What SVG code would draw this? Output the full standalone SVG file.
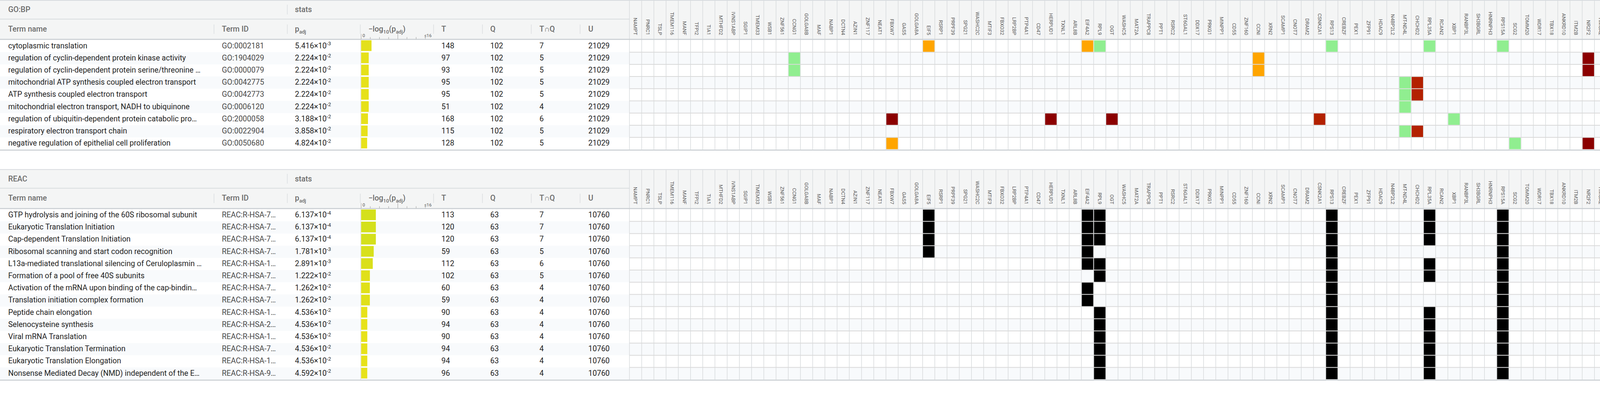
<svg xmlns="http://www.w3.org/2000/svg" width="5144" height="1025" viewBox="0 0 5144 1025">
<style>
text{font-family:Roboto,"Liberation Sans",sans-serif}
.d{font-size:19.5px;fill:#1f1f1f}
.i{fill:#4a4a4a}
.h{font-size:19.5px;fill:#6b6b6b;font-weight:500}
.s{font-size:13px}
.ax{font-size:11.5px;fill:#555}
.gn{font-family:"DejaVu Sans",sans-serif;font-size:12.8px;fill:#5c5c5c;text-anchor:end}
.pg{font-size:19.5px;fill:#6b6b6b}
.hb{fill:#f4f5f5}
.ln{fill:#c9ced2}
.tint{fill:#f8fafc}
.vl{stroke:#d8dbdd;stroke-width:1.5;fill:none}
.hl{stroke:#d9d9d9;stroke-width:2;fill:none}
.sep{stroke:#dadde0;stroke-width:1.5}
.tk{stroke:#9a9a9a;stroke-width:1}
.ic{fill:none;stroke:#c4c4c4;stroke-width:1.6}
.or{fill:#ffa500}.gr{fill:#90ee90}.dr{fill:#8b0000}.rd{fill:#b32100}.bl{fill:#6495ed}.bk{fill:#000}
</style>
<defs>
<path id="vgTop" d="M1611.4 2v381.3m31.27-381.3v381.3m31.27-381.3v381.3m31.27-381.3v381.3m31.27-381.3v381.3m31.27-381.3v381.3m31.27-381.3v381.3m31.27-381.3v381.3m31.27-381.3v381.3m31.27-381.3v381.3m31.27-381.3v381.3m31.27-381.3v381.3m31.27-381.3v381.3m31.27-381.3v381.3m31.27-381.3v381.3m31.27-381.3v381.3m31.27-381.3v381.3m31.27-381.3v381.3m31.27-381.3v381.3m31.27-381.3v381.3m31.27-381.3v381.3m31.27-381.3v381.3m31.27-381.3v381.3m31.27-381.3v381.3m31.27-381.3v381.3m31.27-381.3v381.3m31.27-381.3v381.3m31.27-381.3v381.3m31.27-381.3v381.3m31.27-381.3v381.3m31.27-381.3v381.3m31.27-381.3v381.3m31.27-381.3v381.3m31.27-381.3v381.3m31.27-381.3v381.3m31.27-381.3v381.3m31.27-381.3v381.3m31.27-381.3v381.3m31.27-381.3v381.3m31.27-381.3v381.3m31.27-381.3v381.3m31.27-381.3v381.3m31.27-381.3v381.3m31.27-381.3v381.3m31.27-381.3v381.3m31.27-381.3v381.3m31.27-381.3v381.3m31.27-381.3v381.3m31.27-381.3v381.3m31.27-381.3v381.3m31.27-381.3v381.3m31.27-381.3v381.3m31.27-381.3v381.3m31.27-381.3v381.3m31.27-381.3v381.3m31.27-381.3v381.3m31.27-381.3v381.3m31.27-381.3v381.3m31.27-381.3v381.3m31.27-381.3v381.3m31.27-381.3v381.3m31.27-381.3v381.3m31.27-381.3v381.3m31.27-381.3v381.3m31.27-381.3v381.3m31.27-381.3v381.3m31.27-381.3v381.3m31.27-381.3v381.3m31.27-381.3v381.3m31.27-381.3v381.3m31.27-381.3v381.3m31.27-381.3v381.3m31.27-381.3v381.3m31.27-381.3v381.3m31.27-381.3v381.3m31.27-381.3v381.3m31.27-381.3v381.3m31.27-381.3v381.3m31.27-381.3v381.3m31.27-381.3v381.3m31.27-381.3v381.3m31.27-381.3v381.3m31.27-381.3v381.3m31.27-381.3v381.3m31.27-381.3v381.3m31.27-381.3v381.3m31.27-381.3v381.3m31.27-381.3v381.3m31.27-381.3v381.3m31.27-381.3v381.3m31.27-381.3v381.3m31.27-381.3v381.3m31.27-381.3v381.3m31.27-381.3v381.3m31.27-381.3v381.3m31.27-381.3v381.3m31.27-381.3v381.3m31.27-381.3v381.3m31.27-381.3v381.3m31.27-381.3v381.3m31.27-381.3v381.3m31.27-381.3v381.3m31.27-381.3v381.3m31.27-381.3v381.3m31.27-381.3v381.3m31.27-381.3v381.3m31.27-381.3v381.3m31.27-381.3v381.3m31.27-381.3v381.3m31.27-381.3v381.3m31.27-381.3v381.3m31.27-381.3v381.3m31.27-381.3v381.3m31.27-381.3v381.3m31.27-381.3v381.3m31.27-381.3v381.3m31.27-381.3v381.3m31.27-381.3v381.3"/>
<path id="vgBot" d="M1611.4 2v537.3m31.27-537.3v537.3m31.27-537.3v537.3m31.27-537.3v537.3m31.27-537.3v537.3m31.27-537.3v537.3m31.27-537.3v537.3m31.27-537.3v537.3m31.27-537.3v537.3m31.27-537.3v537.3m31.27-537.3v537.3m31.27-537.3v537.3m31.27-537.3v537.3m31.27-537.3v537.3m31.27-537.3v537.3m31.27-537.3v537.3m31.27-537.3v537.3m31.27-537.3v537.3m31.27-537.3v537.3m31.27-537.3v537.3m31.27-537.3v537.3m31.27-537.3v537.3m31.27-537.3v537.3m31.27-537.3v537.3m31.27-537.3v537.3m31.27-537.3v537.3m31.27-537.3v537.3m31.27-537.3v537.3m31.27-537.3v537.3m31.27-537.3v537.3m31.27-537.3v537.3m31.27-537.3v537.3m31.27-537.3v537.3m31.27-537.3v537.3m31.27-537.3v537.3m31.27-537.3v537.3m31.27-537.3v537.3m31.27-537.3v537.3m31.27-537.3v537.3m31.27-537.3v537.3m31.27-537.3v537.3m31.27-537.3v537.3m31.27-537.3v537.3m31.27-537.3v537.3m31.27-537.3v537.3m31.27-537.3v537.3m31.27-537.3v537.3m31.27-537.3v537.3m31.27-537.3v537.3m31.27-537.3v537.3m31.27-537.3v537.3m31.27-537.3v537.3m31.27-537.3v537.3m31.27-537.3v537.3m31.27-537.3v537.3m31.27-537.3v537.3m31.27-537.3v537.3m31.27-537.3v537.3m31.27-537.3v537.3m31.27-537.3v537.3m31.27-537.3v537.3m31.27-537.3v537.3m31.27-537.3v537.3m31.27-537.3v537.3m31.27-537.3v537.3m31.27-537.3v537.3m31.27-537.3v537.3m31.27-537.3v537.3m31.27-537.3v537.3m31.27-537.3v537.3m31.27-537.3v537.3m31.27-537.3v537.3m31.27-537.3v537.3m31.27-537.3v537.3m31.27-537.3v537.3m31.27-537.3v537.3m31.27-537.3v537.3m31.27-537.3v537.3m31.27-537.3v537.3m31.27-537.3v537.3m31.27-537.3v537.3m31.27-537.3v537.3m31.27-537.3v537.3m31.27-537.3v537.3m31.27-537.3v537.3m31.27-537.3v537.3m31.27-537.3v537.3m31.27-537.3v537.3m31.27-537.3v537.3m31.27-537.3v537.3m31.27-537.3v537.3m31.27-537.3v537.3m31.27-537.3v537.3m31.27-537.3v537.3m31.27-537.3v537.3m31.27-537.3v537.3m31.27-537.3v537.3m31.27-537.3v537.3m31.27-537.3v537.3m31.27-537.3v537.3m31.27-537.3v537.3m31.27-537.3v537.3m31.27-537.3v537.3m31.27-537.3v537.3m31.27-537.3v537.3m31.27-537.3v537.3m31.27-537.3v537.3m31.27-537.3v537.3m31.27-537.3v537.3m31.27-537.3v537.3m31.27-537.3v537.3m31.27-537.3v537.3m31.27-537.3v537.3m31.27-537.3v537.3m31.27-537.3v537.3m31.27-537.3v537.3m31.27-537.3v537.3m31.27-537.3v537.3m31.27-537.3v537.3m31.27-537.3v537.3m31.27-537.3v537.3m31.27-537.3v537.3m31.27-537.3v537.3"/>
</defs>
<rect width="5144" height="1025" fill="#fff"/>

<!-- ============ GO:BP section ============ -->
<g id="gobp">
 <rect class="hb" x="0" y="1.5" width="5144" height="98.5"/>
 <rect class="tint" x="0" y="133.7" width="5144" height="31.2"/>
 <rect class="tint" x="0" y="196.1" width="5144" height="31.2"/>
 <rect class="tint" x="0" y="258.5" width="5144" height="31.2"/>
 <rect class="tint" x="0" y="320.9" width="5144" height="31.2"/>
 <use href="#vgTop" class="vl"/>
 <path class="hl" d="M1611.4 133.7H5144M1611.4 164.9H5144M1611.4 196.1H5144M1611.4 227.3H5144M1611.4 258.5H5144M1611.4 289.7H5144M1611.4 320.9H5144M1611.4 352.1H5144"/>
 <line x1="923.5" y1="102" x2="923.5" y2="383.3" stroke="#d6d6d6" stroke-width="1"/>
 <rect x="0" y="0" width="5144" height="1.8" fill="#d3d7db"/>
 <line x1="0" y1="48.8" x2="1611.4" y2="48.8" stroke="#d5d9dc" stroke-width="1.8"/>
 <rect class="ln" x="0" y="99.6" width="5144" height="2.6"/>
 <rect class="ln" x="0" y="383.3" width="5144" height="2.6"/>
 <g id="gobp-head">
  <text class="h" x="21" y="31">GO:BP</text>
  <text class="h" x="755" y="31">stats</text>
  <line class="sep" x1="735.5" y1="12" x2="735.5" y2="37"/>
  <text class="h" x="21" y="80.7">Term name</text>
  <text class="h" x="568" y="80.7">Term ID</text>
  <text class="h" x="755" y="80.7">p<tspan class="s" dy="5">adj</tspan></text>
  <text class="h" x="943" y="80.7">−log<tspan class="s" dy="5">10</tspan><tspan dy="-5">(p</tspan><tspan class="s" dy="5">adj</tspan><tspan dy="-5">)</tspan></text>
  <text class="h" x="1130" y="80.7">T</text>
  <text class="h" x="1255" y="80.7">Q</text>
  <text class="h" x="1381" y="80.7">T∩Q</text>
  <text class="h" x="1506" y="80.7">U</text>
  <path class="sep" d="M547.8 62.7V86.7M735.5 62.7V86.7M922.4 62.7V86.7M1110 62.7V86.7M1235 62.7V86.7M1360 62.7V86.7M1485 62.7V86.7"/>
  <path class="tk" d="M924.5 87V100M948 95V100M971.4 95V100M994.9 95V100M1018.4 87V100M1041.8 95V100M1065.3 95V100M1088.8 95V100"/>
  <text class="ax" x="928" y="95">0</text>
  <text class="ax" x="1105" y="95" text-anchor="end">≤16</text>
 </g>
 <g id="gobp-genes" class="gn" transform="rotate(90)">
  <text x="90" y="-1622.4">NAMPT</text><text x="90" y="-1653.7">PNRC1</text><text x="90" y="-1684.9">TSLP</text><text x="90" y="-1716.2">TMEM116</text><text x="90" y="-1747.5">MANF</text><text x="90" y="-1778.8">TFPI2</text><text x="90" y="-1810">TIA1</text><text x="90" y="-1841.3">MTHFD2</text><text x="90" y="-1872.6">IVNS1ABP</text><text x="90" y="-1903.8">SGIP1</text>
  <text x="90" y="-1935.1">TMEM33</text><text x="90" y="-1966.4">WSB1</text><text x="90" y="-1997.6">ZNF561</text><text x="90" y="-2028.9">CCNG1</text><text x="90" y="-2060.2">GOLGA8B</text><text x="90" y="-2091.5">MAF</text><text x="90" y="-2122.7">NABP1</text><text x="90" y="-2154">DCTN4</text><text x="90" y="-2185.3">AZIN1</text><text x="90" y="-2216.5">ZNF117</text>
  <text x="90" y="-2247.8">NEAT1</text><text x="90" y="-2279.1">FBXW7</text><text x="90" y="-2310.3">GAS5</text><text x="90" y="-2341.6">GOLGA8A</text><text x="90" y="-2372.9">EIF5</text><text x="90" y="-2404.2">RSRP1</text><text x="90" y="-2435.4">PRPF39</text><text x="90" y="-2466.7">SPG21</text><text x="90" y="-2498">WASHC2C</text><text x="90" y="-2529.2">MTIF3</text>
  <text x="90" y="-2560.5">FBXO32</text><text x="90" y="-2591.8">LRP2BP</text><text x="90" y="-2623">PTP4A1</text><text x="90" y="-2654.3">CD47</text><text x="90" y="-2685.6">HERPUD1</text><text x="90" y="-2716.9">TXNL1</text><text x="90" y="-2748.1">ARL8B</text><text x="90" y="-2779.4">EIF4A2</text><text x="90" y="-2810.7">RPL9</text><text x="90" y="-2841.9">OGT</text>
  <text x="90" y="-2873.2">WASHC5</text><text x="90" y="-2904.5">MAT2A</text><text x="90" y="-2935.7">TRAPPC8</text><text x="90" y="-2967">PPT1</text><text x="90" y="-2998.3">RSRC2</text><text x="90" y="-3029.6">ST6GAL1</text><text x="90" y="-3060.8">DDX17</text><text x="90" y="-3092.1">PRKG1</text><text x="90" y="-3123.4">MINPP1</text><text x="90" y="-3154.6">CD55</text>
  <text x="90" y="-3185.9">ZNF160</text><text x="90" y="-3217.2">CCNI</text><text x="90" y="-3248.4">XRN2</text><text x="90" y="-3279.7">SCAMP1</text><text x="90" y="-3311">CNOT7</text><text x="90" y="-3342.3">DRAM2</text><text x="90" y="-3373.5">CSNK2A1</text><text x="90" y="-3404.8">RPS13</text><text x="90" y="-3436.1">CREBZF</text><text x="90" y="-3467.3">PEX1</text>
  <text x="90" y="-3498.6">ZFP91</text><text x="90" y="-3529.9">HDAC9</text><text x="90" y="-3561.1">N4BP2L2</text><text x="90" y="-3592.4">MT-ND4L</text><text x="90" y="-3623.7">CHCHD2</text><text x="90" y="-3655">RPL35A</text><text x="90" y="-3686.2">RCAN2</text><text x="90" y="-3717.5">XBP1</text><text x="90" y="-3748.8">RANBP3L</text><text x="90" y="-3780">SH3BGRL</text>
  <text x="90" y="-3811.3">HNRNPH3</text><text x="90" y="-3842.6">RPS15A</text><text x="90" y="-3873.8">SCG2</text><text x="90" y="-3905.1">TOMM20</text><text x="90" y="-3936.4">WDR17</text><text x="90" y="-3967.7">TBX18</text><text x="90" y="-3998.9">ANKRD10</text><text x="90" y="-4030.2">ITM2B</text><text x="90" y="-4061.5">NR2F2</text><text x="90" y="-4092.7">HMGA2</text>
  <text x="90" y="-4124">EREG</text><text x="90" y="-4155.3">SREK1</text><text x="90" y="-4186.5">SNX14</text><text x="90" y="-4217.8">PCBP2</text><text x="90" y="-4249.1">TRPM7</text><text x="90" y="-4280.4">NEK10</text><text x="90" y="-4311.6">SERPINI1</text><text x="90" y="-4342.9">MAN1A1</text><text x="90" y="-4374.2">CFAP44</text><text x="90" y="-4405.4">AMZ2</text>
  <text x="90" y="-4436.7">FTX</text><text x="90" y="-4468">ISCU</text><text x="90" y="-4499.2">GID4</text><text x="90" y="-4530.5">ZMAT1</text><text x="90" y="-4561.8">PSMG2</text><text x="90" y="-4593.1">ECM2</text><text x="90" y="-4624.3">UBE2B</text><text x="90" y="-4655.6">CCNG2</text><text x="90" y="-4686.9">KRCC1</text><text x="90" y="-4718.1">TMEM50B</text>
  <text x="90" y="-4749.4">SRSF6</text><text x="90" y="-4780.7">DPY30</text><text x="90" y="-4811.9">SLC44A1</text><text x="90" y="-4843.2">EIF3J</text><text x="90" y="-4874.5">PPP4R3B</text><text x="90" y="-4905.8">PFKFB3</text><text x="90" y="-4937">NDUFA1</text><text x="90" y="-4968.3">DTD2</text><text x="90" y="-4999.6">RTCA</text><text x="90" y="-5030.8">MT-ND4</text>
  <text x="90" y="-5062.1">SAT1</text><text x="90" y="-5093.4">GSTA4</text><text x="90" y="-5124.6">PTEN</text>
 </g>
 <g id="gobp-cells">
  <rect class="or" x="2362.9" y="103.5" width="29.3" height="29.2"/><rect class="or" x="2769.4" y="103.5" width="29.3" height="29.2"/><rect class="gr" x="2800.7" y="103.5" width="29.3" height="29.2"/><rect class="gr" x="3394.8" y="103.5" width="29.3" height="29.2"/><rect class="gr" x="3645" y="103.5" width="29.3" height="29.2"/><rect class="gr" x="3832.6" y="103.5" width="29.3" height="29.2"/><rect class="bl" x="4833.2" y="103.5" width="29.3" height="29.2"/>
  <rect class="gr" x="2018.9" y="134.7" width="29.3" height="29.2"/><rect class="or" x="3207.2" y="134.7" width="29.3" height="29.2"/><rect class="dr" x="4051.5" y="134.7" width="29.3" height="29.2"/><rect class="or" x="4645.6" y="134.7" width="29.3" height="29.2"/><rect class="dr" x="5114.6" y="134.7" width="29.3" height="29.2"/>
  <rect class="gr" x="2018.9" y="165.9" width="29.3" height="29.2"/><rect class="or" x="3207.2" y="165.9" width="29.3" height="29.2"/><rect class="dr" x="4051.5" y="165.9" width="29.3" height="29.2"/><rect class="or" x="4645.6" y="165.9" width="29.3" height="29.2"/><rect class="dr" x="5114.6" y="165.9" width="29.3" height="29.2"/>
  <rect class="gr" x="3582.4" y="197.1" width="29.3" height="29.2"/><rect class="rd" x="3613.7" y="197.1" width="29.3" height="29.2"/><rect class="dr" x="4458" y="197.1" width="29.3" height="29.2"/><rect class="gr" x="4927" y="197.1" width="29.3" height="29.2"/><rect class="dr" x="5020.8" y="197.1" width="29.3" height="29.2"/>
  <rect class="gr" x="3582.4" y="228.3" width="29.3" height="29.2"/><rect class="rd" x="3613.7" y="228.3" width="29.3" height="29.2"/><rect class="dr" x="4458" y="228.3" width="29.3" height="29.2"/><rect class="gr" x="4927" y="228.3" width="29.3" height="29.2"/><rect class="dr" x="5020.8" y="228.3" width="29.3" height="29.2"/>
  <rect class="gr" x="3582.4" y="259.5" width="29.3" height="29.2"/><rect class="dr" x="4458" y="259.5" width="29.3" height="29.2"/><rect class="gr" x="4927" y="259.5" width="29.3" height="29.2"/><rect class="dr" x="5020.8" y="259.5" width="29.3" height="29.2"/>
  <rect class="dr" x="2269.1" y="290.7" width="29.3" height="29.2"/><rect class="dr" x="2675.6" y="290.7" width="29.3" height="29.2"/><rect class="dr" x="2831.9" y="290.7" width="29.3" height="29.2"/><rect class="rd" x="3363.5" y="290.7" width="29.3" height="29.2"/><rect class="gr" x="3707.5" y="290.7" width="29.3" height="29.2"/><rect class="dr" x="5114.6" y="290.7" width="29.3" height="29.2"/>
  <rect class="gr" x="3582.4" y="321.9" width="29.3" height="29.2"/><rect class="rd" x="3613.7" y="321.9" width="29.3" height="29.2"/><rect class="dr" x="4458" y="321.9" width="29.3" height="29.2"/><rect class="gr" x="4927" y="321.9" width="29.3" height="29.2"/><rect class="dr" x="5020.8" y="321.9" width="29.3" height="29.2"/>
  <rect class="or" x="2269.1" y="353.1" width="29.3" height="29.2"/><rect class="gr" x="3863.8" y="353.1" width="29.3" height="29.2"/><rect class="dr" x="4051.5" y="353.1" width="29.3" height="29.2"/><rect class="gr" x="4114" y="353.1" width="29.3" height="29.2"/><rect class="bl" x="5114.6" y="353.1" width="29.3" height="29.2"/>
 </g>
 <g id="gobp-bars">
  <rect x="924.5" y="103.3" width="26.6" height="27.4" fill="#e3e01b"/>
  <rect x="924.5" y="134.5" width="19.4" height="27.4" fill="#e6e11a"/>
  <rect x="924.5" y="165.7" width="19.4" height="27.4" fill="#e6e11a"/>
  <rect x="924.5" y="196.9" width="19.4" height="27.4" fill="#e6e11a"/>
  <rect x="924.5" y="228.1" width="19.4" height="27.4" fill="#e6e11a"/>
  <rect x="924.5" y="259.3" width="19.4" height="27.4" fill="#e6e11a"/>
  <rect x="924.5" y="290.5" width="17.5" height="27.4" fill="#e7e11a"/>
  <rect x="924.5" y="321.7" width="16.6" height="27.4" fill="#e7e11a"/>
  <rect x="924.5" y="352.9" width="15.4" height="27.4" fill="#e8e21a"/>
 </g>
 <g id="gobp-rows" class="d">
  <text x="21" y="123.5">cytoplasmic translation</text><text class="i" x="568" y="123.5">GO:0002181</text><text x="755" y="123.5">5.416×10<tspan class="s" dy="-7.5">-3</tspan></text><text x="1130" y="123.5">148</text><text x="1255" y="123.5">102</text><text x="1381" y="123.5">7</text><text x="1506" y="123.5">21029</text>
  <text x="21" y="154.7">regulation of cyclin-dependent protein kinase activity</text><text class="i" x="568" y="154.7">GO:1904029</text><text x="755" y="154.7">2.224×10<tspan class="s" dy="-7.5">-2</tspan></text><text x="1130" y="154.7">97</text><text x="1255" y="154.7">102</text><text x="1381" y="154.7">5</text><text x="1506" y="154.7">21029</text>
  <text x="21" y="185.9">regulation of cyclin-dependent protein serine/threonine …</text><text class="i" x="568" y="185.9">GO:0000079</text><text x="755" y="185.9">2.224×10<tspan class="s" dy="-7.5">-2</tspan></text><text x="1130" y="185.9">93</text><text x="1255" y="185.9">102</text><text x="1381" y="185.9">5</text><text x="1506" y="185.9">21029</text>
  <text x="21" y="217.1">mitochondrial ATP synthesis coupled electron transport</text><text class="i" x="568" y="217.1">GO:0042775</text><text x="755" y="217.1">2.224×10<tspan class="s" dy="-7.5">-2</tspan></text><text x="1130" y="217.1">95</text><text x="1255" y="217.1">102</text><text x="1381" y="217.1">5</text><text x="1506" y="217.1">21029</text>
  <text x="21" y="248.3">ATP synthesis coupled electron transport</text><text class="i" x="568" y="248.3">GO:0042773</text><text x="755" y="248.3">2.224×10<tspan class="s" dy="-7.5">-2</tspan></text><text x="1130" y="248.3">95</text><text x="1255" y="248.3">102</text><text x="1381" y="248.3">5</text><text x="1506" y="248.3">21029</text>
  <text x="21" y="279.5">mitochondrial electron transport, NADH to ubiquinone</text><text class="i" x="568" y="279.5">GO:0006120</text><text x="755" y="279.5">2.224×10<tspan class="s" dy="-7.5">-2</tspan></text><text x="1130" y="279.5">51</text><text x="1255" y="279.5">102</text><text x="1381" y="279.5">4</text><text x="1506" y="279.5">21029</text>
  <text x="21" y="310.7">regulation of ubiquitin-dependent protein catabolic pro…</text><text class="i" x="568" y="310.7">GO:2000058</text><text x="755" y="310.7">3.188×10<tspan class="s" dy="-7.5">-2</tspan></text><text x="1130" y="310.7">168</text><text x="1255" y="310.7">102</text><text x="1381" y="310.7">6</text><text x="1506" y="310.7">21029</text>
  <text x="21" y="341.9">respiratory electron transport chain</text><text class="i" x="568" y="341.9">GO:0022904</text><text x="755" y="341.9">3.858×10<tspan class="s" dy="-7.5">-2</tspan></text><text x="1130" y="341.9">115</text><text x="1255" y="341.9">102</text><text x="1381" y="341.9">5</text><text x="1506" y="341.9">21029</text>
  <text x="21" y="373.1">negative regulation of epithelial cell proliferation</text><text class="i" x="568" y="373.1">GO:0050680</text><text x="755" y="373.1">4.824×10<tspan class="s" dy="-7.5">-2</tspan></text><text x="1130" y="373.1">128</text><text x="1255" y="373.1">102</text><text x="1381" y="373.1">5</text><text x="1506" y="373.1">21029</text>
 </g>
 <g id="gobp-pager">
  <text class="pg" x="4882" y="416.5" text-anchor="end">1 to 9 of 9</text>
  <path class="ic" d="M4914 403V416M4927 403L4920 409.5L4927 416M4954 403L4947 409.5L4954 416M5080 403L5087 409.5L5080 416M5106 403L5113 409.5L5106 416M5118 403V416"/>
  <text class="pg" x="4969" y="416.5">Page 1 of 1</text>
 </g>
</g>

<!-- ============ REAC section ============ -->
<g id="reac" transform="translate(0,433.5)">
 <rect class="hb" x="0" y="1.5" width="5144" height="98.5"/>
 <rect class="tint" x="0" y="133.7" width="5144" height="31.2"/>
 <rect class="tint" x="0" y="196.1" width="5144" height="31.2"/>
 <rect class="tint" x="0" y="258.5" width="5144" height="31.2"/>
 <rect class="tint" x="0" y="320.9" width="5144" height="31.2"/>
 <rect class="tint" x="0" y="383.3" width="5144" height="31.2"/>
 <rect class="tint" x="0" y="445.7" width="5144" height="31.2"/>
 <rect class="tint" x="0" y="508.1" width="5144" height="31.2"/>
 <use href="#vgBot" class="vl"/>
 <path class="hl" d="M1611.4 133.7H5144M1611.4 164.9H5144M1611.4 196.1H5144M1611.4 227.3H5144M1611.4 258.5H5144M1611.4 289.7H5144M1611.4 320.9H5144M1611.4 352.1H5144M1611.4 383.3H5144M1611.4 414.5H5144M1611.4 445.7H5144M1611.4 476.9H5144M1611.4 508.1H5144"/>
 <line x1="923.5" y1="102" x2="923.5" y2="539.3" stroke="#d6d6d6" stroke-width="1"/>
 <rect x="0" y="0" width="5144" height="1.8" fill="#d3d7db"/>
 <line x1="0" y1="48.8" x2="1611.4" y2="48.8" stroke="#d5d9dc" stroke-width="1.8"/>
 <rect class="ln" x="0" y="99.6" width="5144" height="2.6"/>
 <rect class="ln" x="0" y="539.3" width="5144" height="2.6"/>
 <g id="reac-head">
  <text class="h" x="21" y="31">REAC</text>
  <text class="h" x="755" y="31">stats</text>
  <line class="sep" x1="735.5" y1="12" x2="735.5" y2="37"/>
  <text class="h" x="21" y="80.7">Term name</text>
  <text class="h" x="568" y="80.7">Term ID</text>
  <text class="h" x="755" y="80.7">p<tspan class="s" dy="5">adj</tspan></text>
  <text class="h" x="943" y="80.7">−log<tspan class="s" dy="5">10</tspan><tspan dy="-5">(p</tspan><tspan class="s" dy="5">adj</tspan><tspan dy="-5">)</tspan></text>
  <text class="h" x="1130" y="80.7">T</text>
  <text class="h" x="1255" y="80.7">Q</text>
  <text class="h" x="1381" y="80.7">T∩Q</text>
  <text class="h" x="1506" y="80.7">U</text>
  <path class="sep" d="M547.8 62.7V86.7M735.5 62.7V86.7M922.4 62.7V86.7M1110 62.7V86.7M1235 62.7V86.7M1360 62.7V86.7M1485 62.7V86.7"/>
  <path class="tk" d="M924.5 87V100M948 95V100M971.4 95V100M994.9 95V100M1018.4 87V100M1041.8 95V100M1065.3 95V100M1088.8 95V100"/>
  <text class="ax" x="928" y="95">0</text>
  <text class="ax" x="1105" y="95" text-anchor="end">≤16</text>
 </g>
 <g id="reac-genes" class="gn" transform="rotate(90)">
  <text x="90" y="-1622.4">NAMPT</text><text x="90" y="-1653.7">PNRC1</text><text x="90" y="-1684.9">TSLP</text><text x="90" y="-1716.2">TMEM116</text><text x="90" y="-1747.5">MANF</text><text x="90" y="-1778.8">TFPI2</text><text x="90" y="-1810">TIA1</text><text x="90" y="-1841.3">MTHFD2</text><text x="90" y="-1872.6">IVNS1ABP</text><text x="90" y="-1903.8">SGIP1</text>
  <text x="90" y="-1935.1">TMEM33</text><text x="90" y="-1966.4">WSB1</text><text x="90" y="-1997.6">ZNF561</text><text x="90" y="-2028.9">CCNG1</text><text x="90" y="-2060.2">GOLGA8B</text><text x="90" y="-2091.5">MAF</text><text x="90" y="-2122.7">NABP1</text><text x="90" y="-2154">DCTN4</text><text x="90" y="-2185.3">AZIN1</text><text x="90" y="-2216.5">ZNF117</text>
  <text x="90" y="-2247.8">NEAT1</text><text x="90" y="-2279.1">FBXW7</text><text x="90" y="-2310.3">GAS5</text><text x="90" y="-2341.6">GOLGA8A</text><text x="90" y="-2372.9">EIF5</text><text x="90" y="-2404.2">RSRP1</text><text x="90" y="-2435.4">PRPF39</text><text x="90" y="-2466.7">SPG21</text><text x="90" y="-2498">WASHC2C</text><text x="90" y="-2529.2">MTIF3</text>
  <text x="90" y="-2560.5">FBXO32</text><text x="90" y="-2591.8">LRP2BP</text><text x="90" y="-2623">PTP4A1</text><text x="90" y="-2654.3">CD47</text><text x="90" y="-2685.6">HERPUD1</text><text x="90" y="-2716.9">TXNL1</text><text x="90" y="-2748.1">ARL8B</text><text x="90" y="-2779.4">EIF4A2</text><text x="90" y="-2810.7">RPL9</text><text x="90" y="-2841.9">OGT</text>
  <text x="90" y="-2873.2">WASHC5</text><text x="90" y="-2904.5">MAT2A</text><text x="90" y="-2935.7">TRAPPC8</text><text x="90" y="-2967">PPT1</text><text x="90" y="-2998.3">RSRC2</text><text x="90" y="-3029.6">ST6GAL1</text><text x="90" y="-3060.8">DDX17</text><text x="90" y="-3092.1">PRKG1</text><text x="90" y="-3123.4">MINPP1</text><text x="90" y="-3154.6">CD55</text>
  <text x="90" y="-3185.9">ZNF160</text><text x="90" y="-3217.2">CCNI</text><text x="90" y="-3248.4">XRN2</text><text x="90" y="-3279.7">SCAMP1</text><text x="90" y="-3311">CNOT7</text><text x="90" y="-3342.3">DRAM2</text><text x="90" y="-3373.5">CSNK2A1</text><text x="90" y="-3404.8">RPS13</text><text x="90" y="-3436.1">CREBZF</text><text x="90" y="-3467.3">PEX1</text>
  <text x="90" y="-3498.6">ZFP91</text><text x="90" y="-3529.9">HDAC9</text><text x="90" y="-3561.1">N4BP2L2</text><text x="90" y="-3592.4">MT-ND4L</text><text x="90" y="-3623.7">CHCHD2</text><text x="90" y="-3655">RPL35A</text><text x="90" y="-3686.2">RCAN2</text><text x="90" y="-3717.5">XBP1</text><text x="90" y="-3748.8">RANBP3L</text><text x="90" y="-3780">SH3BGRL</text>
  <text x="90" y="-3811.3">HNRNPH3</text><text x="90" y="-3842.6">RPS15A</text><text x="90" y="-3873.8">SCG2</text><text x="90" y="-3905.1">TOMM20</text><text x="90" y="-3936.4">WDR17</text><text x="90" y="-3967.7">TBX18</text><text x="90" y="-3998.9">ANKRD10</text><text x="90" y="-4030.2">ITM2B</text><text x="90" y="-4061.5">NR2F2</text><text x="90" y="-4092.7">HMGA2</text>
  <text x="90" y="-4124">EREG</text><text x="90" y="-4155.3">SREK1</text><text x="90" y="-4186.5">SNX14</text><text x="90" y="-4217.8">PCBP2</text><text x="90" y="-4249.1">TRPM7</text><text x="90" y="-4280.4">NEK10</text><text x="90" y="-4311.6">SERPINI1</text><text x="90" y="-4342.9">MAN1A1</text><text x="90" y="-4374.2">CFAP44</text><text x="90" y="-4405.4">AMZ2</text>
  <text x="90" y="-4436.7">FTX</text><text x="90" y="-4468">ISCU</text><text x="90" y="-4499.2">GID4</text><text x="90" y="-4530.5">ZMAT1</text><text x="90" y="-4561.8">PSMG2</text><text x="90" y="-4593.1">ECM2</text><text x="90" y="-4624.3">UBE2B</text><text x="90" y="-4655.6">CCNG2</text><text x="90" y="-4686.9">KRCC1</text><text x="90" y="-4718.1">TMEM50B</text>
  <text x="90" y="-4749.4">SRSF6</text><text x="90" y="-4780.7">DPY30</text><text x="90" y="-4811.9">SLC44A1</text><text x="90" y="-4843.2">EIF3J</text><text x="90" y="-4874.5">PPP4R3B</text><text x="90" y="-4905.8">PFKFB3</text><text x="90" y="-4937">NDUFA1</text><text x="90" y="-4968.3">DTD2</text><text x="90" y="-4999.6">RTCA</text><text x="90" y="-5030.8">MT-ND4</text>
  <text x="90" y="-5062.1">SAT1</text><text x="90" y="-5093.4">GSTA4</text><text x="90" y="-5124.6">PTEN</text>
 </g>
 <g id="reac-cells" class="bk">
  <rect x="2362.9" y="103.5" width="29.3" height="29.2"/><rect x="2362.9" y="134.7" width="29.3" height="29.2"/><rect x="2362.9" y="165.9" width="29.3" height="29.2"/><rect x="2362.9" y="197.1" width="29.3" height="29.2"/>
  <rect x="2769.4" y="103.5" width="29.3" height="29.2"/><rect x="2769.4" y="134.7" width="29.3" height="29.2"/><rect x="2769.4" y="165.9" width="29.3" height="29.2"/><rect x="2769.4" y="197.1" width="29.3" height="29.2"/><rect x="2769.4" y="228.3" width="29.3" height="29.2"/><rect x="2769.4" y="290.7" width="29.3" height="29.2"/><rect x="2769.4" y="321.9" width="29.3" height="29.2"/>
  <rect x="2800.7" y="103.5" width="29.3" height="29.2"/><rect x="2800.7" y="134.7" width="29.3" height="29.2"/><rect x="2800.7" y="165.9" width="29.3" height="29.2"/><rect x="2800.7" y="228.3" width="29.3" height="29.2"/><rect x="2800.7" y="259.5" width="29.3" height="29.2"/><rect x="2800.7" y="353.1" width="29.3" height="29.2"/><rect x="2800.7" y="384.3" width="29.3" height="29.2"/><rect x="2800.7" y="415.5" width="29.3" height="29.2"/><rect x="2800.7" y="446.7" width="29.3" height="29.2"/><rect x="2800.7" y="477.9" width="29.3" height="29.2"/><rect x="2800.7" y="509.1" width="29.3" height="29.2"/>
  <rect x="3394.8" y="103.5" width="29.3" height="29.2"/><rect x="3394.8" y="134.7" width="29.3" height="29.2"/><rect x="3394.8" y="165.9" width="29.3" height="29.2"/><rect x="3394.8" y="197.1" width="29.3" height="29.2"/><rect x="3394.8" y="228.3" width="29.3" height="29.2"/><rect x="3394.8" y="259.5" width="29.3" height="29.2"/><rect x="3394.8" y="290.7" width="29.3" height="29.2"/><rect x="3394.8" y="321.9" width="29.3" height="29.2"/><rect x="3394.8" y="353.1" width="29.3" height="29.2"/><rect x="3394.8" y="384.3" width="29.3" height="29.2"/><rect x="3394.8" y="415.5" width="29.3" height="29.2"/><rect x="3394.8" y="446.7" width="29.3" height="29.2"/><rect x="3394.8" y="477.9" width="29.3" height="29.2"/><rect x="3394.8" y="509.1" width="29.3" height="29.2"/>
  <rect x="3645" y="103.5" width="29.3" height="29.2"/><rect x="3645" y="134.7" width="29.3" height="29.2"/><rect x="3645" y="165.9" width="29.3" height="29.2"/><rect x="3645" y="228.3" width="29.3" height="29.2"/><rect x="3645" y="259.5" width="29.3" height="29.2"/><rect x="3645" y="353.1" width="29.3" height="29.2"/><rect x="3645" y="384.3" width="29.3" height="29.2"/><rect x="3645" y="415.5" width="29.3" height="29.2"/><rect x="3645" y="446.7" width="29.3" height="29.2"/><rect x="3645" y="477.9" width="29.3" height="29.2"/><rect x="3645" y="509.1" width="29.3" height="29.2"/>
  <rect x="3832.6" y="103.5" width="29.3" height="29.2"/><rect x="3832.6" y="134.7" width="29.3" height="29.2"/><rect x="3832.6" y="165.9" width="29.3" height="29.2"/><rect x="3832.6" y="197.1" width="29.3" height="29.2"/><rect x="3832.6" y="228.3" width="29.3" height="29.2"/><rect x="3832.6" y="259.5" width="29.3" height="29.2"/><rect x="3832.6" y="290.7" width="29.3" height="29.2"/><rect x="3832.6" y="321.9" width="29.3" height="29.2"/><rect x="3832.6" y="353.1" width="29.3" height="29.2"/><rect x="3832.6" y="384.3" width="29.3" height="29.2"/><rect x="3832.6" y="415.5" width="29.3" height="29.2"/><rect x="3832.6" y="446.7" width="29.3" height="29.2"/><rect x="3832.6" y="477.9" width="29.3" height="29.2"/><rect x="3832.6" y="509.1" width="29.3" height="29.2"/>
  <rect x="4833.2" y="103.5" width="29.3" height="29.2"/><rect x="4833.2" y="134.7" width="29.3" height="29.2"/><rect x="4833.2" y="165.9" width="29.3" height="29.2"/><rect x="4833.2" y="197.1" width="29.3" height="29.2"/><rect x="4833.2" y="228.3" width="29.3" height="29.2"/><rect x="4833.2" y="259.5" width="29.3" height="29.2"/><rect x="4833.2" y="290.7" width="29.3" height="29.2"/><rect x="4833.2" y="321.9" width="29.3" height="29.2"/>
 </g>
 <g id="reac-bars">
  <rect x="924.5" y="103.3" width="37.7" height="27.4" fill="#d4e01c"/>
  <rect x="924.5" y="134.5" width="37.7" height="27.4" fill="#d4e01c"/>
  <rect x="924.5" y="165.7" width="37.7" height="27.4" fill="#d4e01c"/>
  <rect x="924.5" y="196.9" width="32.2" height="27.4" fill="#d8e01b"/>
  <rect x="924.5" y="228.1" width="29.8" height="27.4" fill="#dadf1b"/>
  <rect x="924.5" y="259.3" width="22.4" height="27.4" fill="#e0e01a"/>
  <rect x="924.5" y="290.5" width="22.3" height="27.4" fill="#e0e01a"/>
  <rect x="924.5" y="321.7" width="22.3" height="27.4" fill="#e0e01a"/>
  <rect x="924.5" y="352.9" width="15.8" height="27.4" fill="#e7e21a"/>
  <rect x="924.5" y="384.1" width="15.8" height="27.4" fill="#e7e21a"/>
  <rect x="924.5" y="415.3" width="15.8" height="27.4" fill="#e7e21a"/>
  <rect x="924.5" y="446.5" width="15.8" height="27.4" fill="#e7e21a"/>
  <rect x="924.5" y="477.7" width="15.8" height="27.4" fill="#e7e21a"/>
  <rect x="924.5" y="508.9" width="15.7" height="27.4" fill="#e7e21a"/>
 </g>
 <g id="reac-rows" class="d">
  <text x="21" y="123.5">GTP hydrolysis and joining of the 60S ribosomal subunit</text><text class="i" x="568" y="123.5">REAC:R-HSA-7…</text><text x="755" y="123.5">6.137×10<tspan class="s" dy="-7.5">-4</tspan></text><text x="1130" y="123.5">113</text><text x="1255" y="123.5">63</text><text x="1381" y="123.5">7</text><text x="1506" y="123.5">10760</text>
  <text x="21" y="154.7">Eukaryotic Translation Initiation</text><text class="i" x="568" y="154.7">REAC:R-HSA-7…</text><text x="755" y="154.7">6.137×10<tspan class="s" dy="-7.5">-4</tspan></text><text x="1130" y="154.7">120</text><text x="1255" y="154.7">63</text><text x="1381" y="154.7">7</text><text x="1506" y="154.7">10760</text>
  <text x="21" y="185.9">Cap-dependent Translation Initiation</text><text class="i" x="568" y="185.9">REAC:R-HSA-7…</text><text x="755" y="185.9">6.137×10<tspan class="s" dy="-7.5">-4</tspan></text><text x="1130" y="185.9">120</text><text x="1255" y="185.9">63</text><text x="1381" y="185.9">7</text><text x="1506" y="185.9">10760</text>
  <text x="21" y="217.1">Ribosomal scanning and start codon recognition</text><text class="i" x="568" y="217.1">REAC:R-HSA-7…</text><text x="755" y="217.1">1.781×10<tspan class="s" dy="-7.5">-3</tspan></text><text x="1130" y="217.1">59</text><text x="1255" y="217.1">63</text><text x="1381" y="217.1">5</text><text x="1506" y="217.1">10760</text>
  <text x="21" y="248.3">L13a-mediated translational silencing of Ceruloplasmin …</text><text class="i" x="568" y="248.3">REAC:R-HSA-1…</text><text x="755" y="248.3">2.891×10<tspan class="s" dy="-7.5">-3</tspan></text><text x="1130" y="248.3">112</text><text x="1255" y="248.3">63</text><text x="1381" y="248.3">6</text><text x="1506" y="248.3">10760</text>
  <text x="21" y="279.5">Formation of a pool of free 40S subunits</text><text class="i" x="568" y="279.5">REAC:R-HSA-7…</text><text x="755" y="279.5">1.222×10<tspan class="s" dy="-7.5">-2</tspan></text><text x="1130" y="279.5">102</text><text x="1255" y="279.5">63</text><text x="1381" y="279.5">5</text><text x="1506" y="279.5">10760</text>
  <text x="21" y="310.7">Activation of the mRNA upon binding of the cap-bindin…</text><text class="i" x="568" y="310.7">REAC:R-HSA-7…</text><text x="755" y="310.7">1.262×10<tspan class="s" dy="-7.5">-2</tspan></text><text x="1130" y="310.7">60</text><text x="1255" y="310.7">63</text><text x="1381" y="310.7">4</text><text x="1506" y="310.7">10760</text>
  <text x="21" y="341.9">Translation initiation complex formation</text><text class="i" x="568" y="341.9">REAC:R-HSA-7…</text><text x="755" y="341.9">1.262×10<tspan class="s" dy="-7.5">-2</tspan></text><text x="1130" y="341.9">59</text><text x="1255" y="341.9">63</text><text x="1381" y="341.9">4</text><text x="1506" y="341.9">10760</text>
  <text x="21" y="373.1">Peptide chain elongation</text><text class="i" x="568" y="373.1">REAC:R-HSA-1…</text><text x="755" y="373.1">4.536×10<tspan class="s" dy="-7.5">-2</tspan></text><text x="1130" y="373.1">90</text><text x="1255" y="373.1">63</text><text x="1381" y="373.1">4</text><text x="1506" y="373.1">10760</text>
  <text x="21" y="404.3">Selenocysteine synthesis</text><text class="i" x="568" y="404.3">REAC:R-HSA-2…</text><text x="755" y="404.3">4.536×10<tspan class="s" dy="-7.5">-2</tspan></text><text x="1130" y="404.3">94</text><text x="1255" y="404.3">63</text><text x="1381" y="404.3">4</text><text x="1506" y="404.3">10760</text>
  <text x="21" y="435.5">Viral mRNA Translation</text><text class="i" x="568" y="435.5">REAC:R-HSA-1…</text><text x="755" y="435.5">4.536×10<tspan class="s" dy="-7.5">-2</tspan></text><text x="1130" y="435.5">90</text><text x="1255" y="435.5">63</text><text x="1381" y="435.5">4</text><text x="1506" y="435.5">10760</text>
  <text x="21" y="466.7">Eukaryotic Translation Termination</text><text class="i" x="568" y="466.7">REAC:R-HSA-7…</text><text x="755" y="466.7">4.536×10<tspan class="s" dy="-7.5">-2</tspan></text><text x="1130" y="466.7">94</text><text x="1255" y="466.7">63</text><text x="1381" y="466.7">4</text><text x="1506" y="466.7">10760</text>
  <text x="21" y="497.9">Eukaryotic Translation Elongation</text><text class="i" x="568" y="497.9">REAC:R-HSA-1…</text><text x="755" y="497.9">4.536×10<tspan class="s" dy="-7.5">-2</tspan></text><text x="1130" y="497.9">94</text><text x="1255" y="497.9">63</text><text x="1381" y="497.9">4</text><text x="1506" y="497.9">10760</text>
  <text x="21" y="529.1">Nonsense Mediated Decay (NMD) independent of the E…</text><text class="i" x="568" y="529.1">REAC:R-HSA-9…</text><text x="755" y="529.1">4.592×10<tspan class="s" dy="-7.5">-2</tspan></text><text x="1130" y="529.1">96</text><text x="1255" y="529.1">63</text><text x="1381" y="529.1">4</text><text x="1506" y="529.1">10760</text>
 </g>
 <g id="reac-pager">
  <text class="pg" x="4882" y="572.5" text-anchor="end">1 to 14 of 14</text>
  <path class="ic" d="M4914 559V572M4927 559L4920 565.5L4927 572M4954 559L4947 565.5L4954 572M5080 559L5087 565.5L5080 572M5106 559L5113 565.5L5106 572M5118 559V572"/>
  <text class="pg" x="4969" y="572.5">Page 1 of 1</text>
 </g>
</g>
</svg>
